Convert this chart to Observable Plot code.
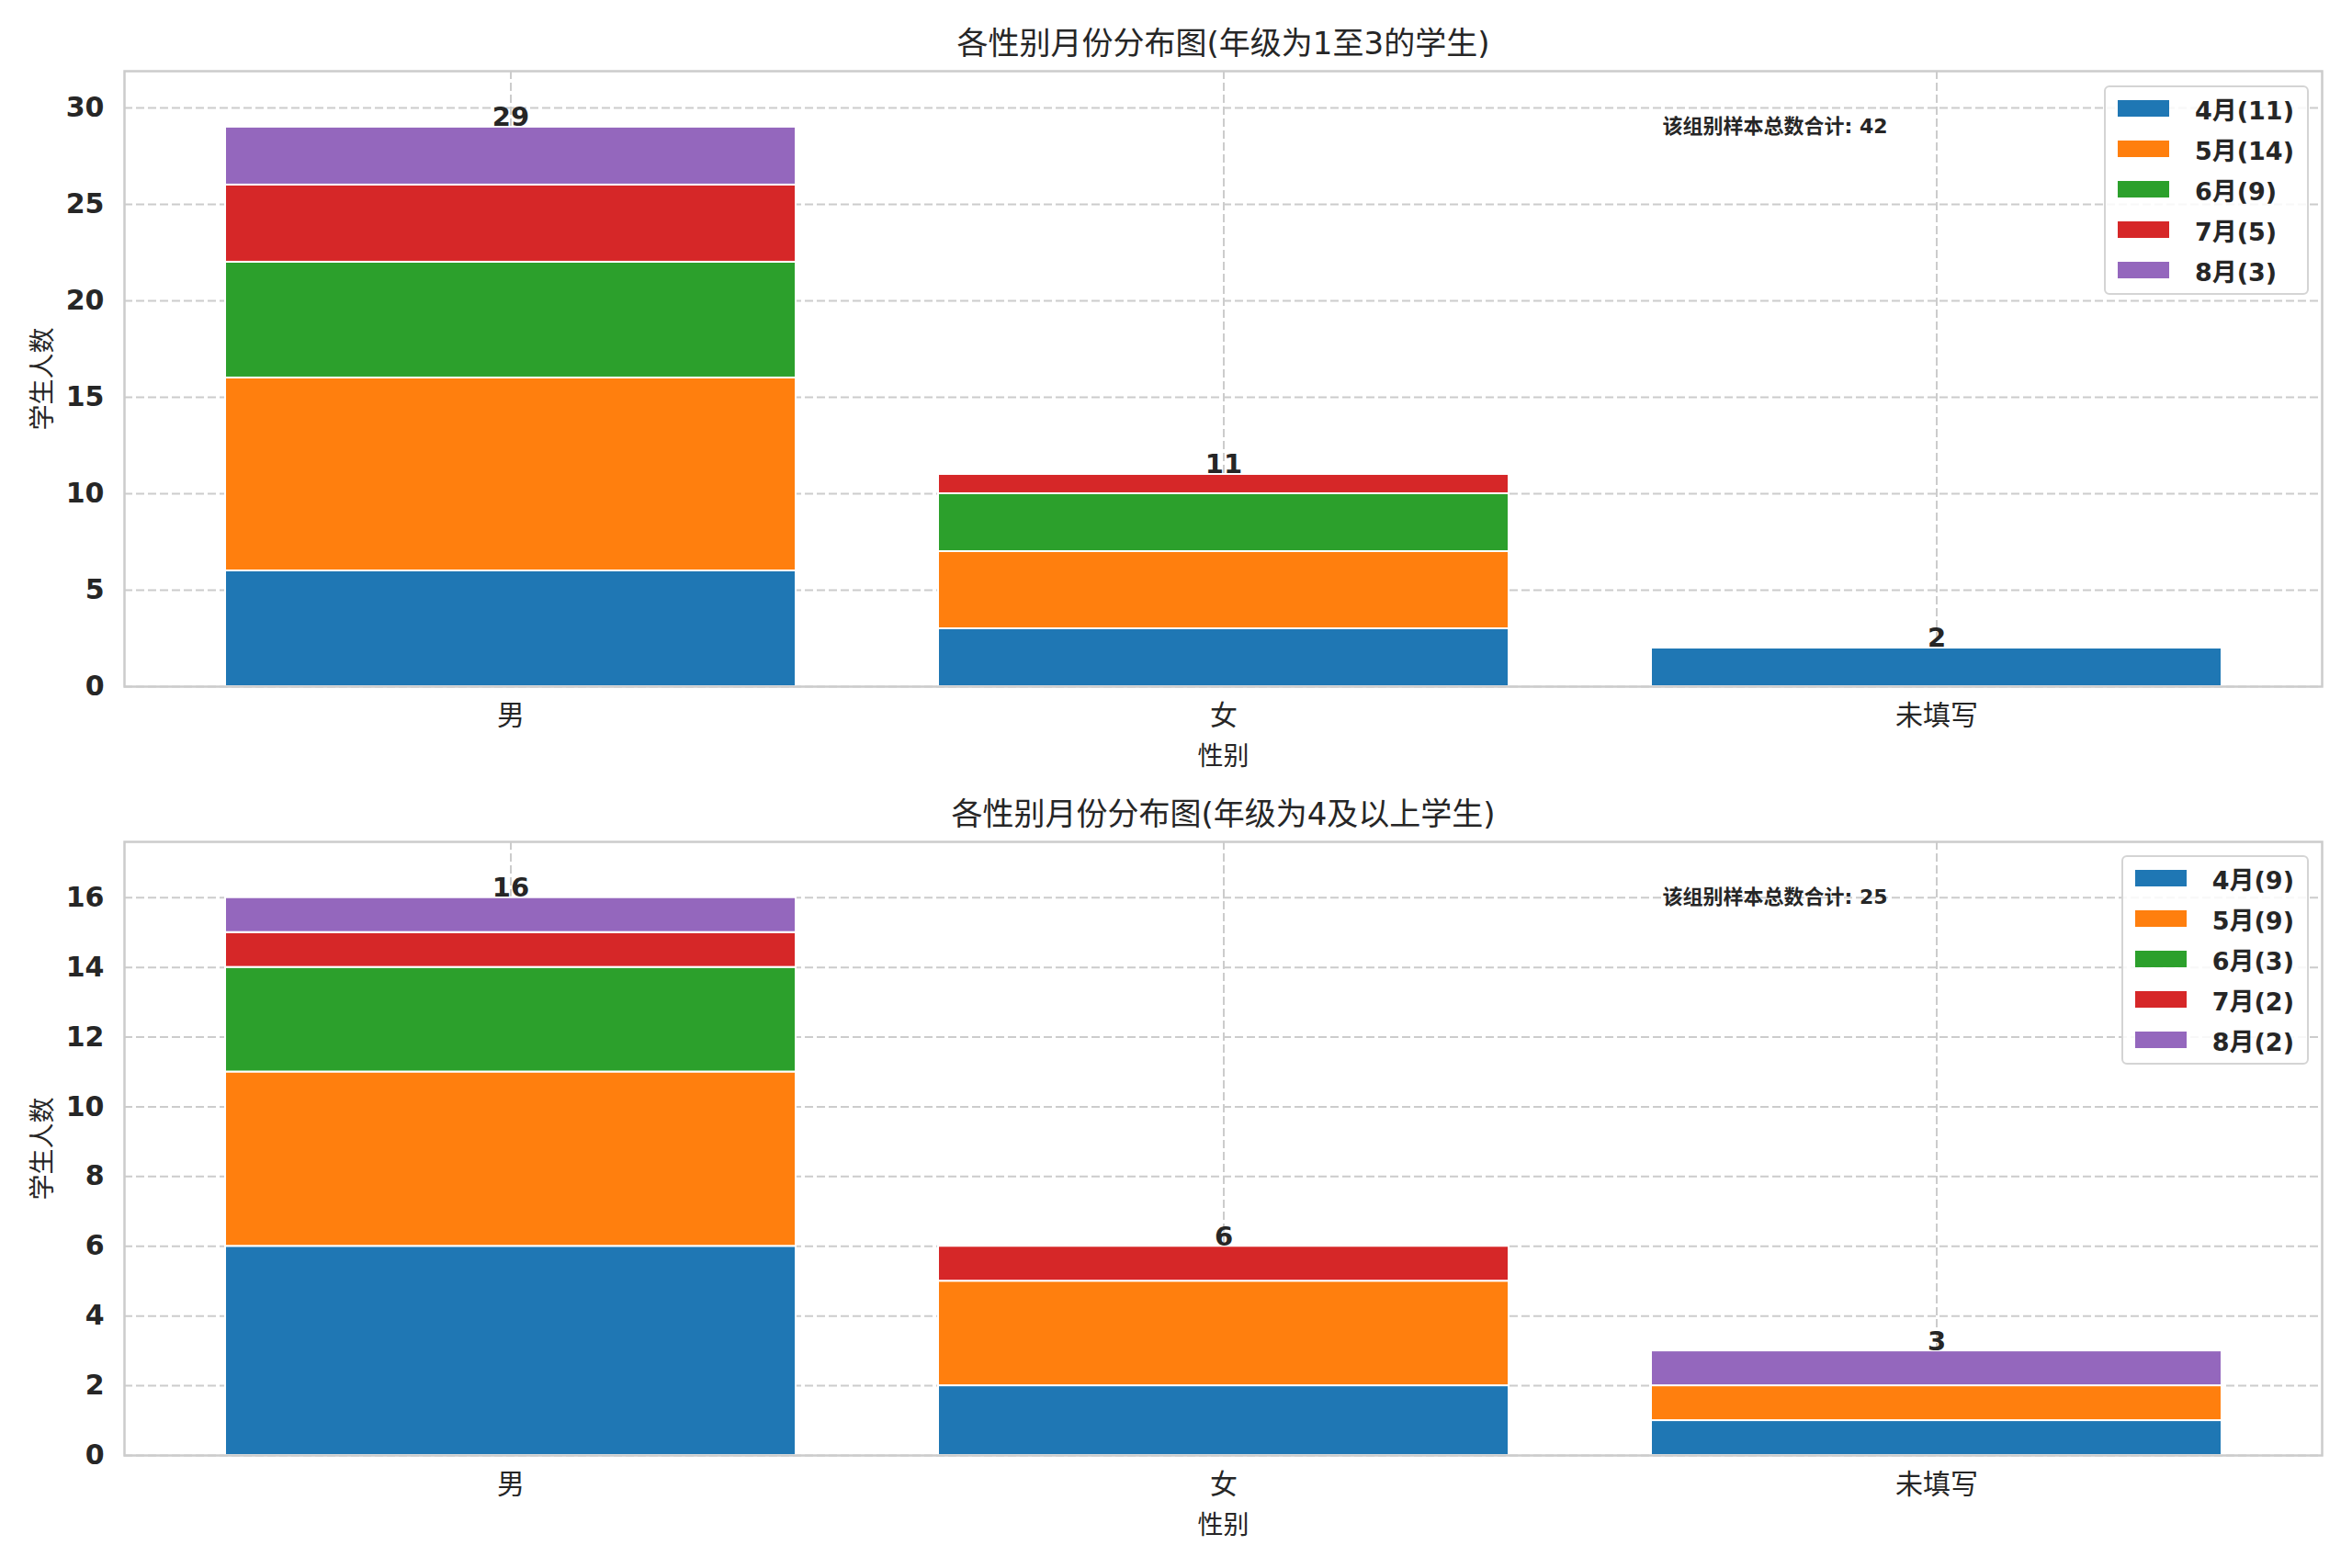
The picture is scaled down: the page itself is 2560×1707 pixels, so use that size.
<!DOCTYPE html>
<html>
<head>
<meta charset="utf-8">
<script src="https://cdn.jsdelivr.net/npm/d3@7"></script>
<script src="https://cdn.jsdelivr.net/npm/@observablehq/plot@0.6"></script>
<style>
  html, body { margin: 0; padding: 0; background: white; }
  #root { position: relative; width: 2560px; height: 1707px; background: white; overflow: hidden;
          font-family: "DejaVu Sans", "Noto Sans CJK SC", sans-serif; color: #262626; }
  .chart { position: absolute; left: 0; }
  .legend { position: absolute; box-sizing: border-box; background: rgba(255,255,255,0.85);
            border: 2px solid #d4d4d4; border-radius: 6px; padding: 1px 14px 3px 13px; }
  .row { display: flex; align-items: center; height: 44px; }
  .sw { width: 56px; height: 18px; margin-right: 28px; }
  .lt { font-weight: bold; font-size: 27px; white-space: nowrap; }
</style>
</head>
<body>
<div id="root"></div>
<script>
// ---- data ----
const genders = ["男", "女", "未填写"];
const months = ["4月", "5月", "6月", "7月", "8月"];
const colors = ["#1f77b4", "#ff7f0e", "#2ca02c", "#d62728", "#9467bd"];

// top chart (grade 1-3): values per month across genders
const top4 = [6, 3, 2];
const top5 = [10, 4, 0];
const top6 = [6, 3, 0];
const top7 = [4, 1, 0];
const top8 = [3, 0, 0];
const topTicks = [0, 5, 10, 15, 20, 25, 30];
const topTitle = "各性别月份分布图(年级为1至3的学生)";

// bottom chart (grade 4+)
const bot4 = [6, 2, 1];
const bot5 = [5, 3, 1];
const bot6 = [3, 0, 0];
const bot7 = [1, 1, 0];
const bot8 = [1, 0, 1];
const botTicks = [0, 2, 4, 6, 8, 10, 12, 14, 16];
const botTitle = "各性别月份分布图(年级为4及以上学生)";

const xLabel = "性别";
const yLabel = "学生人数";
const notePrefix = "该组别样本总数合计: ";

const FONT = '"DejaVu Sans", "Noto Sans CJK SC", sans-serif';
const root = document.getElementById("root");

function build(series, ticks, title, svgTop, height, mTop, mBottom, legendTop) {
  const rows = [];
  months.forEach((m, j) => genders.forEach((g, i) => {
    if (series[j][i] > 0) rows.push({gender: g, month: m, count: series[j][i]});
  }));
  const totals = genders.map((g, i) => ({gender: g, total: d3.sum(series, s => s[i])}));
  const grand = d3.sum(totals, d => d.total);
  const ymax = d3.max(totals, d => d.total) * 1.1;
  const grid = {stroke: "#cccccc", strokeOpacity: 1, strokeWidth: 2, strokeDasharray: "9,4"};

  const chart = Plot.plot({
    width: 2560, height,
    marginLeft: 135, marginRight: 33, marginTop: mTop, marginBottom: mBottom,
    style: {fontFamily: FONT, color: "#262626", background: "white", overflow: "visible"},
    x: {domain: genders, paddingInner: 0.2, paddingOuter: 0.14, label: null},
    y: {domain: [0, ymax], label: null},
    color: {domain: months, range: colors},
    marks: [
      Plot.gridY({ticks, ...grid}),
      Plot.gridX({...grid}),
      Plot.barY(rows, {x: "gender", y: "count", fill: "month", stroke: "white", strokeWidth: 2}),
      Plot.frame({stroke: "#cccccc", strokeWidth: 2.5}),
      Plot.axisY({ticks, tickSize: 0, tickPadding: 22, fontSize: 30, fontWeight: "bold", label: null, fill: "#262626"}),
      Plot.axisX({tickSize: 0, tickPadding: 20, fontSize: 30, label: null, fill: "#262626"}),
      Plot.text(totals, {x: "gender", y: "total", text: d => String(d.total), lineAnchor: "bottom", dy: -1,
                          fontSize: 29, fontWeight: "bold", fill: "#262626"}),
      Plot.text([title], {text: d => d, frameAnchor: "top", dy: -29, lineAnchor: "middle", fontSize: 34, fill: "#262626"}),
      Plot.text([xLabel], {text: d => d, frameAnchor: "bottom", dy: 77, lineAnchor: "middle", fontSize: 28, fill: "#262626"}),
      Plot.text([yLabel], {text: d => d, frameAnchor: "left", dx: -88, rotate: -90, textAnchor: "middle",
                           lineAnchor: "middle", fontSize: 28, fill: "#262626"}),
      Plot.text([notePrefix + grand], {text: d => d, frameAnchor: "top-left", dx: 1674, dy: 60, lineAnchor: "middle",
                                        textAnchor: "start", fontSize: 22, fontWeight: "bold", fill: "#262626"})
    ]
  });
  chart.classList.add("chart");
  chart.style.top = svgTop + "px";
  root.appendChild(chart);

  // legend
  const lg = document.createElement("div");
  lg.className = "legend";
  lg.style.top = legendTop + "px";
  lg.style.right = (2560 - 2513) + "px";
  months.forEach((m, j) => {
    const r = document.createElement("div"); r.className = "row";
    const sw = document.createElement("div"); sw.className = "sw"; sw.style.background = colors[j];
    const t = document.createElement("div"); t.className = "lt";
    t.textContent = `${m}(${d3.sum(series[j])})`;
    r.appendChild(sw); r.appendChild(t); lg.appendChild(r);
  });
  root.appendChild(lg);
}

build([top4, top5, top6, top7, top8], topTicks, topTitle, 0, 853, 77, 106, 93);
build([bot4, bot5, bot6, bot7, bot8], botTicks, botTitle, 853, 854, 63, 123, 931);
</script>
</body>
</html>
